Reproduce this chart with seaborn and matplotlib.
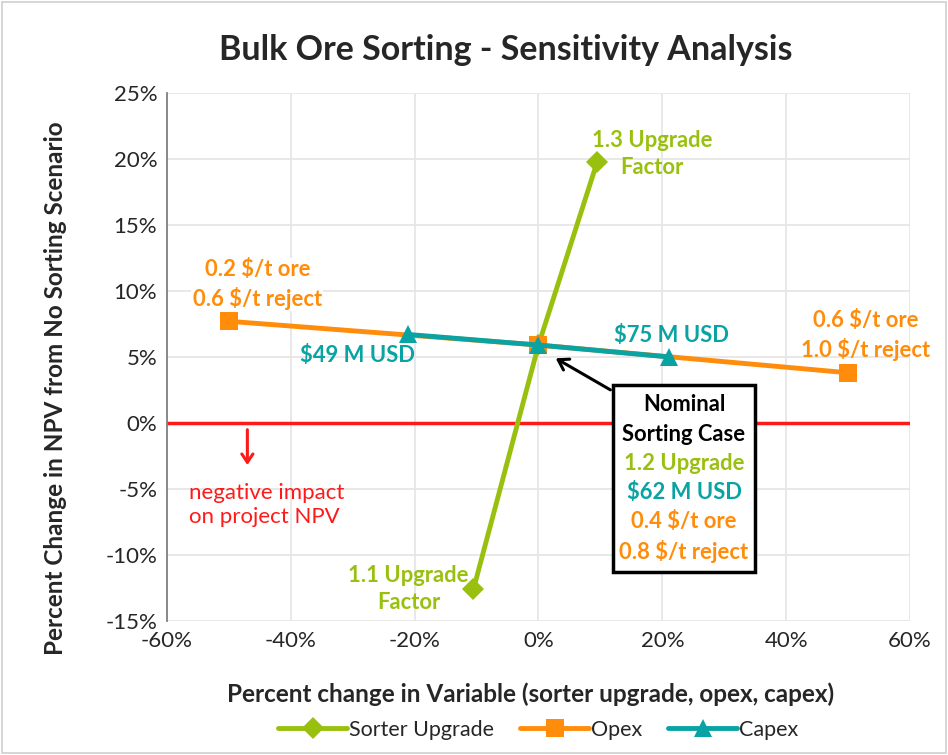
import matplotlib
matplotlib.use('Agg')
import matplotlib.pyplot as plt
import seaborn as sns
import pandas as pd
from matplotlib.ticker import PercentFormatter
from matplotlib.patches import Rectangle

# values (percent)
sorter_x = [-10.5, 0, 9.5]
sorter_y = [-12.6, 5.9, 19.8]
opex_x = [-50, 0, 50]
opex_y = [7.7, 5.9, 3.8]
capex_x = [-21, 0, 21]
capex_y = [6.7, 5.9, 5.0]

green = '#99c00e'
orange = '#ff8c0a'
teal = '#0aa3a3'

sns.set_style('white')
plt.rcParams['font.family'] = ['Lato', 'DejaVu Sans']
plt.rcParams['axes.unicode_minus'] = False

fig = plt.figure(figsize=(9.48, 7.55), dpi=100)
ax = fig.add_axes([0.176, 0.1775, 0.784, 0.6995])

ax.set_xlim(-60, 60)
ax.set_ylim(-15, 25)
ax.set_xticks(range(-60, 61, 20))
ax.set_yticks(range(-15, 26, 5))
ax.xaxis.set_major_formatter(PercentFormatter(decimals=0))
ax.yaxis.set_major_formatter(PercentFormatter(decimals=0))
ax.grid(True, color='#e6e6e6', lw=1.3)
ax.tick_params(labelsize=16, length=0, pad=7)
for s in ['top', 'right', 'bottom']:
    ax.spines[s].set_visible(False)
ax.spines['left'].set_color('#808080')
ax.spines['left'].set_linewidth(1.3)

# zero line
ax.axhline(0, color='#ff1a1a', lw=2.5, zorder=2)

sorter = pd.DataFrame({'x': sorter_x, 'y': sorter_y})
opex = pd.DataFrame({'x': opex_x, 'y': opex_y})
capex = pd.DataFrame({'x': capex_x, 'y': capex_y})
sns.lineplot(data=sorter, x='x', y='y', ax=ax, color=green, lw=3.5, marker='D',
             markersize=11, markeredgewidth=0, label='Sorter Upgrade', zorder=3)
sns.lineplot(data=opex, x='x', y='y', ax=ax, color=orange, lw=3.5, marker='s',
             markersize=13, markeredgewidth=0, label='Opex', zorder=4)
sns.lineplot(data=capex, x='x', y='y', ax=ax, color=teal, lw=3.5, marker='^',
             markersize=13, markeredgewidth=0, label='Capex', zorder=5)

ax.set_xlabel('Percent change in Variable (sorter upgrade, opex, capex)',
              fontsize=17.5, fontweight='bold')
ax.set_ylabel('Percent Change in NPV from No Sorting Scenario',
              fontsize=17.5, fontweight='bold')
ax.xaxis.set_label_coords(0.489, -0.116)
ax.yaxis.set_label_coords(-0.134, 0.44)
fig.suptitle('Bulk Ore Sorting - Sensitivity Analysis', fontsize=24.5,
             fontweight='bold', y=0.955, x=0.533)

# point labels
kw = dict(fontsize=15.8, fontweight='bold', ha='center', va='center', linespacing=1.35)
ax.text(18.3, 20.4, '1.3 Upgrade\nFactor', color=green, **kw)
ax.text(-21, -12.6, '1.1 Upgrade\nFactor', color=green, **kw)
ax.text(-45.4, 10.5, '0.2 $/t ore\n0.6 $/t reject', color=orange,
        bbox=dict(fc='white', ec='none', pad=1), **kw)
ax.text(52.8, 6.6, '0.6 $/t ore\n1.0 $/t reject', color=orange, **kw)
ax.text(-29.2, 5.1, '$49 M USD', color=teal, **kw)
ax.text(21.5, 6.6, '$75 M USD', color=teal, **kw)

# nominal case box
ax.add_patch(Rectangle((12, -11.3), 23, 14.2, fc='white', ec='black', lw=2.5, zorder=6))
box_lines = [('Nominal', 'black', 1.4), ('Sorting Case', 'black', -0.9),
             ('1.2 Upgrade', green, -3.1), ('$62 M USD', teal, -5.25),
             ('0.4 $/t ore', orange, -7.5), ('0.8 $/t reject', orange, -9.7)]
for txt, c, yy in box_lines:
    ax.text(23.5, yy, txt, color=c, fontsize=15.8, fontweight='bold',
            ha='center', va='center', zorder=7)
ax.annotate('', xy=(2.4, 5.0), xytext=(12, 2.4),
            arrowprops=dict(arrowstyle='->,head_length=0.7,head_width=0.45',
                            color='black', lw=2.2), zorder=6)

# negative impact note
ax.annotate('', xy=(-47, -3.4), xytext=(-47, -0.3),
            arrowprops=dict(arrowstyle='->,head_length=0.6,head_width=0.4',
                            color='#ff1a1a', lw=2.2))
ax.text(-56.5, -6.2, 'negative impact\non project NPV', color='#ff1a1a',
        fontsize=16, ha='left', va='center', linespacing=1.25)

ax.legend(loc='upper center', bbox_to_anchor=(0.5, -0.15), ncol=3, frameon=False,
          fontsize=15.5, handlelength=3.2, handletextpad=0.1, columnspacing=1.2)

fig.patches.append(Rectangle((0.002, 0.002), 0.996, 0.996, transform=fig.transFigure,
                             fill=False, ec='#d0d0d0', lw=1.2))

fig.savefig('out.png', dpi=100)
